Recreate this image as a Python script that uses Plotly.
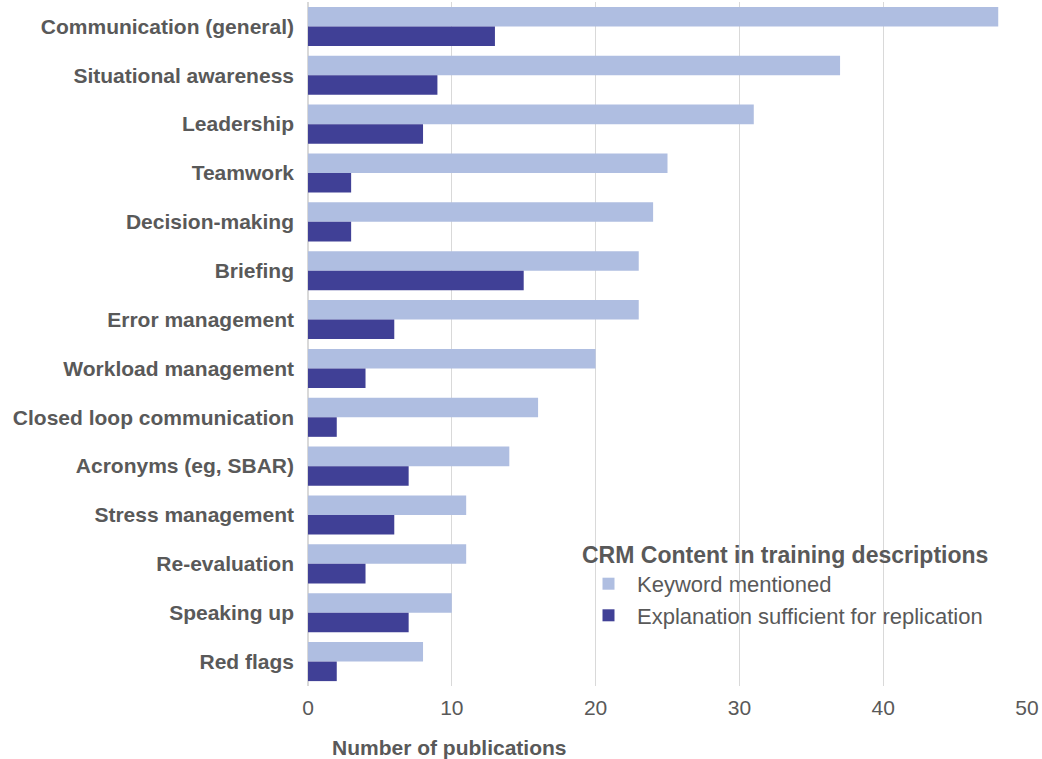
import plotly.graph_objects as go

categories = ["Communication (general)", "Situational awareness", "Leadership", "Teamwork",
              "Decision-making", "Briefing", "Error management", "Workload management",
              "Closed loop communication", "Acronyms (eg, SBAR)", "Stress management",
              "Re-evaluation", "Speaking up", "Red flags"]
keyword_mentioned = [48, 37, 31, 25, 24, 23, 23, 20, 16, 14, 11, 11, 10, 8]
explanation_sufficient = [13, 9, 8, 3, 3, 15, 6, 4, 2, 7, 6, 4, 7, 2]
x_ticks = [0, 10, 20, 30, 40, 50]

TXT = "#595959"
FONT = "Liberation Sans, Arial, sans-serif"

fig = go.Figure()
fig.add_trace(go.Bar(y=categories, x=keyword_mentioned, orientation="h",
                     name="Keyword mentioned", marker=dict(color="#AFBEE1", line=dict(width=0))))
fig.add_trace(go.Bar(y=categories, x=explanation_sufficient, orientation="h",
                     name="Explanation sufficient for replication",
                     marker=dict(color="#404096", line=dict(width=0))))

fig.update_layout(
    width=1042, height=759,
    margin=dict(l=308, r=15, t=2, b=73, autoexpand=False),
    paper_bgcolor="white", plot_bgcolor="white",
    barmode="group", bargap=0.2, bargroupgap=0,
    font=dict(family=FONT, color=TXT, size=21),
    xaxis=dict(range=[0, 50], tickvals=x_ticks, showgrid=True, gridcolor="#D9D9D9",
               gridwidth=1, zeroline=True, zerolinecolor="#D9D9D9", showline=False,
               ticks="", tickfont=dict(size=21, color=TXT), ticklabelstandoff=7),
    yaxis=dict(autorange="reversed", showgrid=False, ticks="", ticklabelstandoff=13,
               tickfont=dict(size=21, color=TXT, family=FONT, weight="bold")),
    legend=dict(x=(580 - 308) / 719, y=(686 - 533) / 684, xanchor="left", yanchor="top",
                bgcolor="rgba(255,255,255,0)",
                title=dict(text="<b>CRM Content in training descriptions</b>",
                           font=dict(size=23, color=TXT)),
                font=dict(size=22, color=TXT), tracegroupgap=0, itemwidth=47),
    annotations=[dict(text="<b>Number of publications</b>", xref="paper", yref="paper",
                      x=(330 - 308) / 719, y=(686 - 747) / 684, xanchor="left", yanchor="middle",
                      showarrow=False, font=dict(size=21, color=TXT))],
)

fig.write_html("out.html", config={"displayModeBar": False},
               post_script="document.body.style.margin='0';document.body.style.overflow='hidden';")
